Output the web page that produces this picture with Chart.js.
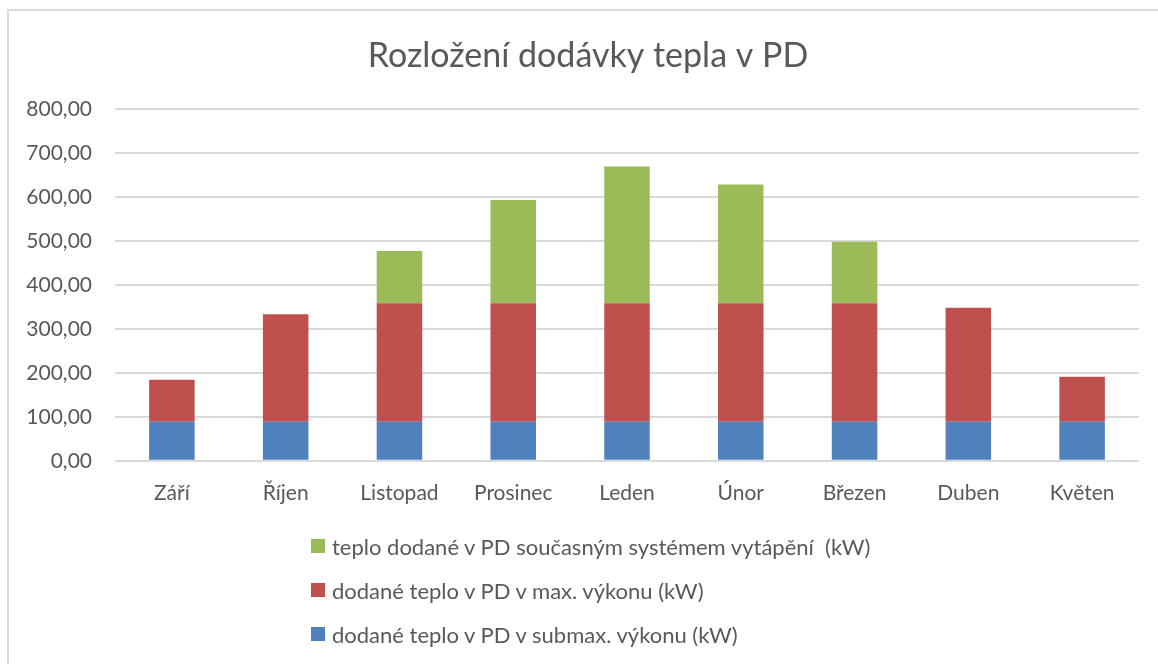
<!DOCTYPE html>
<html>
<head>
<meta charset="utf-8">
<script src="https://cdn.jsdelivr.net/npm/chart.js@4.4.1/dist/chart.umd.min.js"></script>
<style>
  html, body { margin: 0; padding: 0; background: #fff; }
  #wrap { position: relative; width: 1158px; height: 664px; overflow: hidden; font-family: Lato, sans-serif; }
  #frame { position: absolute; left: 7px; top: 9px; width: 1160px; height: 700px; border-top: 2px solid #d9d9d9; border-left: 2px solid #d9d9d9; box-sizing: border-box; }
  #c { position: absolute; left: 0; top: 0; }
  #legend { position: absolute; left: 311px; top: 524px; color: #595959; font-size: 22px; }
  .item { height: 44px; display: flex; align-items: center; white-space: pre; }
  .box { width: 14px; height: 14px; margin-right: 7px; flex: none; }
</style>
</head>
<body>
<div id="wrap">
  <div id="frame"></div>
  <canvas id="c" width="1158" height="664"></canvas>
  <div id="legend"></div>
</div>
<script>
const categories = ['Září', 'Říjen', 'Listopad', 'Prosinec', 'Leden', 'Únor', 'Březen', 'Duben', 'Květen'];
const submaxValues = [89, 89, 89, 89, 89, 89, 89, 89, 89];
const maxValues = [95, 244, 269, 269, 269, 269, 269, 259, 102];
const currentSystemValues = [0, 0, 119, 235, 311, 270, 140, 0, 0];
const yTicks = [0, 100, 200, 300, 400, 500, 600, 700, 800];
const seriesNames = [
  'dodané teplo v PD v submax. výkonu (kW)',
  'dodané teplo v PD v max. výkonu (kW)',
  'teplo dodané v PD současným systémem vytápění  (kW)'
];
const colors = ['#4F81BD', '#C0504D', '#9BBB59'];
const titleText = 'Rozložení dodávky tepla v PD';

const fontFamily = 'Lato, sans-serif';
const textColor = '#595959';

const datasets = [submaxValues, maxValues, currentSystemValues].map((d, i) => ({
  label: seriesNames[i],
  data: d,
  backgroundColor: colors[i],
  borderWidth: 0,
  categoryPercentage: 1,
  barPercentage: 0.4
}));

// centre the title over the frame rather than over the whole canvas
const titleShift = {
  id: 'titleShift',
  afterLayout(chart) {
    if (chart.titleBlock) { chart.titleBlock.left = 37; }
  }
};

new Chart(document.getElementById('c'), {
  type: 'bar',
  data: { labels: categories, datasets },
  plugins: [titleShift],
  options: {
    responsive: false,
    animation: false,
    layout: { padding: { left: 0, right: 19, top: 0, bottom: 138 } },
    plugins: {
      legend: { display: false },
      tooltip: { enabled: false },
      title: {
        display: true,
        text: titleText,
        color: textColor,
        font: { family: fontFamily, size: 34, weight: 'normal', lineHeight: 1.2 },
        padding: { top: 36, bottom: 32 }
      }
    },
    scales: {
      x: {
        stacked: true,
        grid: { display: false, drawTicks: false },
        border: { display: false },
        ticks: { color: textColor, font: { family: fontFamily, size: 21 }, padding: 20 }
      },
      y: {
        stacked: true,
        min: 0,
        max: 800,
        afterBuildTicks: (scale) => { scale.ticks = yTicks.map(v => ({ value: v })); },
        afterFit: (scale) => { scale.width = 115; },
        grid: { color: '#d9d9d9', lineWidth: 2, drawTicks: false },
        border: { display: false },
        ticks: {
          color: textColor,
          font: { family: fontFamily, size: 21 },
          padding: 23,
          callback: (v) => v.toFixed(2).replace('.', ',')
        }
      }
    }
  }
});

const legend = document.getElementById('legend');
[2, 1, 0].forEach(i => {
  const row = document.createElement('div');
  row.className = 'item';
  const box = document.createElement('span');
  box.className = 'box';
  box.style.background = colors[i];
  const txt = document.createElement('span');
  txt.textContent = seriesNames[i];
  row.appendChild(box);
  row.appendChild(txt);
  legend.appendChild(row);
});
</script>
</body>
</html>
